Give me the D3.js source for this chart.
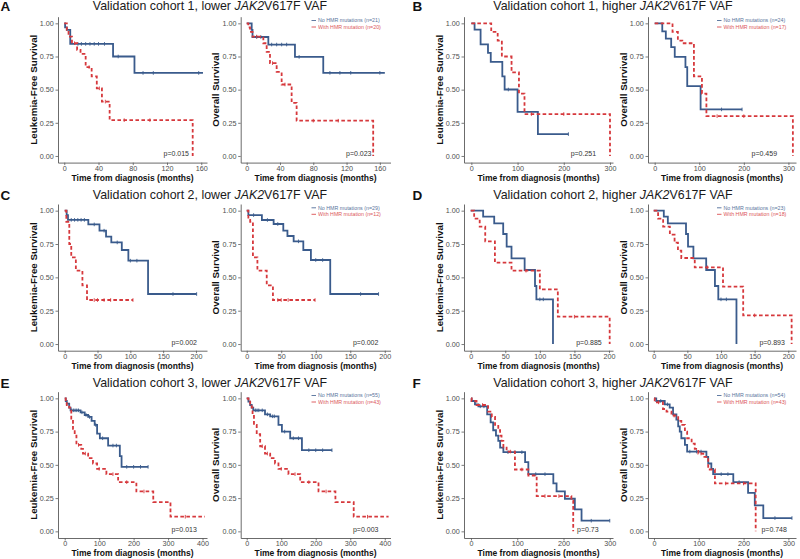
<!DOCTYPE html>
<html><head><meta charset="utf-8">
<script src="https://cdn.jsdelivr.net/npm/d3@7/dist/d3.min.js"></script>
<style>
body{margin:0;background:#fff}
svg{display:block;font-family:"Liberation Sans",Arial,Helvetica,sans-serif}
</style>
</head><body>
<svg id="chart" width="800" height="559"></svg>
<script>
// ---------------- DATA ----------------
const panelLetters = ["A","B","C","D","E","F"];
const cohortNums = [1,1,2,2,3,3];
const vafLevels = ["lower","higher","lower","higher","lower","higher"];
const yTitles = ["Leukemia-Free Survival","Overall Survival"];
const xTitle = "Time from diagnosis (months)";
const noN  = [21,24,29,23,55,54];
const hmrN = [20,17,12,18,43,43];
const pValues = ["p=0.015","p=0.023","p=0.251","p=0.459","p=0.002","p=0.002",
                 "p=0.885","p=0.893","p=0.013","p=0.003","p=0.73","p=0.748"];
const xTickSets = [[0,40,80,120,160],[0,100,200,300],[0,50,100,150,200],
                   [0,50,100,150,200],[0,100,200,300,400],[0,100,200,300]];
const yTicks = [0,0.25,0.5,0.75,1];

// A: cohort 1 lower
const aLfsNoT = [0,1,3,7,57,82,162];
const aLfsNoS = [1,0.97,0.95,0.845,0.75,0.626,0.626];
const aLfsNoC = [16,20,25,30,35,40,47,63,92,104,157];
const aLfsHmT = [0,3,5,9,15,19,25,32,38,44,53,150];
const aLfsHmS = [1,0.95,0.90,0.85,0.80,0.77,0.67,0.60,0.51,0.41,0.27,0];
const aLfsHmC = [12,29,41,48,70,100];
const aOsNoT = [0,6,7,26,58,92,166];
const aOsNoS = [1,0.95,0.897,0.84,0.747,0.627,0.627];
const aOsNoC = [12,17,30,36,42,48,63,100,112,125,160];
const aOsHmT = [0,2,4,7,20,24,28,36,42,54,60,152];
const aOsHmS = [1,0.97,0.935,0.90,0.85,0.785,0.70,0.634,0.539,0.401,0.266,0];
const aOsHmC = [12,31,46,80,110];
// B: cohort 1 higher
const bLfsNoT = [0,7,20,36,42,67,72,100,144,210];
const bLfsNoS = [1,0.952,0.842,0.777,0.709,0.60,0.501,0.333,0.165,0.165];
const bLfsNoC = [80,210];
const bLfsHmT = [0,43,57,66,87,103,115,300];
const bLfsHmS = [1,0.935,0.87,0.75,0.63,0.47,0.316,0];
const bLfsHmC = [130,200];
const bOsNoT = [0,17,25,37,45,69,73,103,196];
const bOsNoS = [1,0.94,0.885,0.82,0.747,0.67,0.526,0.351,0.351];
const bOsNoC = [150,196];
const bOsHmT = [0,40,52,62,88,106,116,310];
const bOsHmS = [1,0.935,0.87,0.85,0.60,0.47,0.30,0];
const bOsHmC = [140,200];
// C: cohort 2 lower
const cLfsNoT = [0,3,5,36,53,63,71,87,97,127,201];
const cLfsNoS = [1,0.966,0.931,0.897,0.85,0.805,0.762,0.705,0.625,0.375,0.375];
const cLfsNoC = [10,15,20,25,30,45,60,80,100,110,165,201];
const cLfsHmT = [0,2.5,7,10,17,27,34,104];
const cLfsHmS = [1,0.917,0.75,0.65,0.55,0.44,0.33,0.33];
const cLfsHmC = [45,50,60,70,104];
const cOsNoT = [0,2.4,22,39,53,59,68,82,93,121,191];
const cOsNoS = [1,0.967,0.93,0.9,0.85,0.81,0.77,0.705,0.63,0.375,0.375];
const cOsNoC = [10,30,45,75,100,110,165,191];
const cOsHmT = [0,2.4,5,9,15.5,29,38,99];
const cOsHmS = [1,0.93,0.917,0.65,0.55,0.44,0.33,0.33];
const cOsHmC = [45,50,60,99];
// D: cohort 2 higher
const dLfsNoT = [0,18,34,47,52,59,78,93,95,119];
const dLfsNoS = [1,0.955,0.905,0.825,0.73,0.643,0.555,0.435,0.335,0];
const dLfsNoC = [100,105];
const dLfsHmT = [0,5,13,21,35,59,100,126,201];
const dLfsHmS = [1,0.94,0.88,0.77,0.61,0.55,0.41,0.205,0];
const dLfsHmC = [80,150];
const dOsNoT = [0,15,21,48,51,59,78,91,96,123];
const dOsNoS = [1,0.955,0.905,0.825,0.73,0.643,0.555,0.435,0.335,0];
const dOsNoC = [100,108];
const dOsHmT = [0,6.5,14,24,31,36,41,61,103,133,205];
const dOsHmS = [1,0.94,0.88,0.82,0.76,0.70,0.645,0.575,0.43,0.215,0];
const dOsHmC = [80,150];
// E: cohort 3 lower
const eLfsNoT = [0,3,6,13,17,46,58,68,78,87,94,102,126,160,165,242];
const eLfsNoS = [1,0.98,0.96,0.93,0.91,0.895,0.875,0.86,0.83,0.80,0.735,0.70,0.645,0.565,0.485,0.485];
const eLfsNoC = [20,25,30,35,40,50,62,72,90,110,140,150,180,200,220,242];
const eLfsHmT = [0,3,6,13,19,24,29,34,48,53,68,82,94,121,155,208,257,307,407];
const eLfsHmS = [1,0.975,0.95,0.93,0.84,0.77,0.72,0.65,0.62,0.585,0.55,0.51,0.47,0.43,0.37,0.30,0.22,0.11,0.11];
const eLfsHmC = [40,60,100,140,180,230,350];
const eOsNoT = [0,5,10,14.5,19,53,68,92,102,126,160,247];
const eOsNoS = [1,0.975,0.95,0.93,0.91,0.88,0.865,0.80,0.75,0.70,0.61,0.61];
const eOsNoC = [25,30,35,45,60,75,80,110,135,150,180,200,220,247];
const eOsHmT = [0,5,10,14.5,17,21,29,39,53,68,82,92,121,155,208,257,310,411];
const eOsHmS = [1,0.975,0.95,0.93,0.88,0.80,0.73,0.64,0.585,0.55,0.51,0.47,0.43,0.37,0.30,0.22,0.11,0.11];
const eOsHmC = [45,60,100,140,180,230,350];
// F: cohort 3 higher
const fLfsNoT = [0,1.4,8.6,16,35,42.5,48,54,59,63,70,117,124,178,185,203,224.5,239,300];
const fLfsNoS = [1,0.98,0.955,0.94,0.88,0.82,0.76,0.72,0.68,0.63,0.595,0.52,0.43,0.36,0.30,0.245,0.165,0.08,0.08];
const fLfsNoC = [20,28,80,95,110,140,160,260,300];
const fLfsHmT = [0,1.4,12,37,45,52,59,63,66,70,77,95,124,142,217,221];
const fLfsHmS = [1,0.98,0.95,0.90,0.86,0.80,0.76,0.72,0.68,0.63,0.60,0.465,0.42,0.265,0.23,0];
const fLfsHmC = [25,85,110,160,190];
const fOsNoT = [0,5,24,35,42.5,50,54,57.5,61,69,74,117,121,128,132,177,210,225,244,308];
const fOsNoS = [1,0.98,0.955,0.93,0.88,0.84,0.79,0.75,0.70,0.65,0.60,0.56,0.51,0.47,0.43,0.37,0.29,0.195,0.10,0.10];
const fOsNoC = [15,30,80,95,105,150,165,190,270,308];
const fOsHmT = [0,1.6,20,28,39,54,61,69,74,84,91,99,110,121,136,227];
const fOsHmS = [1,0.97,0.92,0.90,0.87,0.83,0.80,0.75,0.70,0.66,0.62,0.585,0.56,0.465,0.36,0];
const fOsHmC = [10,45,105,160,200];

// ---------------- LAYOUT ----------------
const colX = [[58,207],[240.7,390.5],[464,613],[648,796]];
const rowY = [[16.7,162.6],[204,350.7],[391.7,538]];
const xDomains = [[-7.3,166.7],[-7.2,172.8],[-15.9,306.5],[-15,317],
                  [-10.2,216.8],[-8.7,208.3],[-9.7,205.8],[-8.5,211.5],
                  [-19.5,413],[-17.4,416.6],[-15.1,307],[-13.4,317]];
const pX = [145.7,150,270,274.5,201.5,190.8,189.5,195,383.7,381.7,276,296.7];
const titleBase = [10,199.3,387.3];
const titleCx = [210,613];
const letterX = [0.5,412.5];

const curves = [
  [[aLfsNoT,aLfsNoS,aLfsNoC],[aLfsHmT,aLfsHmS,aLfsHmC]],
  [[aOsNoT,aOsNoS,aOsNoC],[aOsHmT,aOsHmS,aOsHmC]],
  [[bLfsNoT,bLfsNoS,bLfsNoC],[bLfsHmT,bLfsHmS,bLfsHmC]],
  [[bOsNoT,bOsNoS,bOsNoC],[bOsHmT,bOsHmS,bOsHmC]],
  [[cLfsNoT,cLfsNoS,cLfsNoC],[cLfsHmT,cLfsHmS,cLfsHmC]],
  [[cOsNoT,cOsNoS,cOsNoC],[cOsHmT,cOsHmS,cOsHmC]],
  [[dLfsNoT,dLfsNoS,dLfsNoC],[dLfsHmT,dLfsHmS,dLfsHmC]],
  [[dOsNoT,dOsNoS,dOsNoC],[dOsHmT,dOsHmS,dOsHmC]],
  [[eLfsNoT,eLfsNoS,eLfsNoC],[eLfsHmT,eLfsHmS,eLfsHmC]],
  [[eOsNoT,eOsNoS,eOsNoC],[eOsHmT,eOsHmS,eOsHmC]],
  [[fLfsNoT,fLfsNoS,fLfsNoC],[fLfsHmT,fLfsHmS,fLfsHmC]],
  [[fOsNoT,fOsNoS,fOsNoC],[fOsHmT,fOsHmS,fOsHmC]]
];

const BLUE = "#3a5b8c", RED = "#d6383c";
const seriesColor = [BLUE, RED];
const seriesDash = [null, "3.6,2.4"];
const AXIS = "#5a5a5a", TICKTXT = "#4d4d4d";

const svg = d3.select("#chart");

// Group titles and letters
for (let g = 0; g < 6; g++) {
  const r = Math.floor(g/2), h = g%2;
  const t = svg.append("text")
    .attr("x", titleCx[h]).attr("y", titleBase[r])
    .attr("text-anchor","middle").attr("font-size",12.4).attr("fill","#1a1a1a");
  t.append("tspan").text(`Validation cohort ${cohortNums[g]}, ${vafLevels[g]} `);
  t.append("tspan").attr("font-style","italic").text("JAK2");
  t.append("tspan").text("V617F VAF");
  svg.append("text").attr("x", letterX[h]).attr("y", titleBase[r] + 0.5)
    .attr("font-size",13.5).attr("font-weight","bold").attr("fill","#111")
    .text(panelLetters[g]);
}

for (let i = 0; i < 12; i++) {
  const g = Math.floor(i/2), side = i%2;
  const r = Math.floor(g/2), c = (g%2)*2 + side;
  const x = d3.scaleLinear().domain(xDomains[i]).range(colX[c]);
  const y = d3.scaleLinear().domain([-0.05,1.05]).range([rowY[r][1], rowY[r][0]]);
  const pg = svg.append("g");

  // axes
  const xa = pg.append("g").attr("transform",`translate(0,${rowY[r][1]})`)
    .call(d3.axisBottom(x).tickValues(xTickSets[g]).tickSize(2.5).tickSizeOuter(0).tickPadding(0.6));
  const ya = pg.append("g").attr("transform",`translate(${colX[c][0]},0)`)
    .call(d3.axisLeft(y).tickValues(yTicks).tickFormat(d3.format(".2f")).tickSize(2.5).tickSizeOuter(0).tickPadding(1.8));
  [xa, ya].forEach(a => {
    a.select(".domain").attr("stroke", AXIS).attr("stroke-width", 0.9);
    a.selectAll(".tick line").attr("stroke", AXIS).attr("stroke-width", 0.8);
    a.selectAll(".tick text").attr("fill", TICKTXT).attr("font-size", 7.2)
      .attr("font-family","Liberation Sans, Arial, sans-serif");
  });

  // axis titles
  const cx = (colX[c][0] + colX[c][1]) / 2;
  pg.append("text").attr("x", cx).attr("y", rowY[r][1] + 18.4)
    .attr("text-anchor","middle").attr("font-size",9.6).attr("font-weight","bold")
    .attr("fill","#111").attr("textLength",122).attr("lengthAdjust","spacingAndGlyphs")
    .text(xTitle);
  const cy = (rowY[r][0] + rowY[r][1]) / 2;
  pg.append("text").attr("transform",`translate(${colX[c][0]-21.5},${cy}) rotate(-90)`)
    .attr("text-anchor","middle").attr("font-size",9.8).attr("font-weight","bold")
    .attr("fill","#111").text(yTitles[side]);

  // curves
  const line = d3.line().x(d => x(d[0])).y(d => y(d[1])).curve(d3.curveStepAfter);
  curves[i].forEach((cv, k) => {
    const [T, S, C] = cv;
    const pts = T.map((t, j) => [t, S[j]]);
    const p = pg.append("path").attr("d", line(pts)).attr("fill","none")
      .attr("stroke", seriesColor[k]).attr("stroke-width", 1.8);
    if (seriesDash[k]) p.attr("stroke-dasharray", seriesDash[k]);
    C.forEach(ct => {
      let s = S[0];
      for (let j = 0; j < T.length; j++) if (T[j] <= ct) s = S[j];
      pg.append("line").attr("x1", x(ct)).attr("x2", x(ct))
        .attr("y1", y(s) - 1.8).attr("y2", y(s) + 1.8)
        .attr("stroke", seriesColor[k]).attr("stroke-width", 0.9);
    });
  });

  // p value
  pg.append("text").attr("x", x(pX[i])).attr("y", y(0) + 0.5)
    .attr("text-anchor","end").attr("font-size",7).attr("fill","#333").text(pValues[i]);

  // legend
  if (side === 1) {
    const right = colX[c][1];
    const labels = [`No HMR mutations (n=${noN[g]})`, `With HMR mutation (n=${hmrN[g]})`];
    labels.forEach((lab, k) => {
      const ly = rowY[r][0] + 3.8 + k*6.5;
      pg.append("line").attr("x1", right-79).attr("x2", right-74.5).attr("y1", ly).attr("y2", ly)
        .attr("stroke", seriesColor[k]).attr("stroke-width", 0.8);
      pg.append("text").attr("x", right-72.5).attr("y", ly + 1.8)
        .attr("font-size", 5.3).attr("fill", seriesColor[k]).attr("opacity",0.85).text(lab);
    });
  }
}
</script>
</body></html>
